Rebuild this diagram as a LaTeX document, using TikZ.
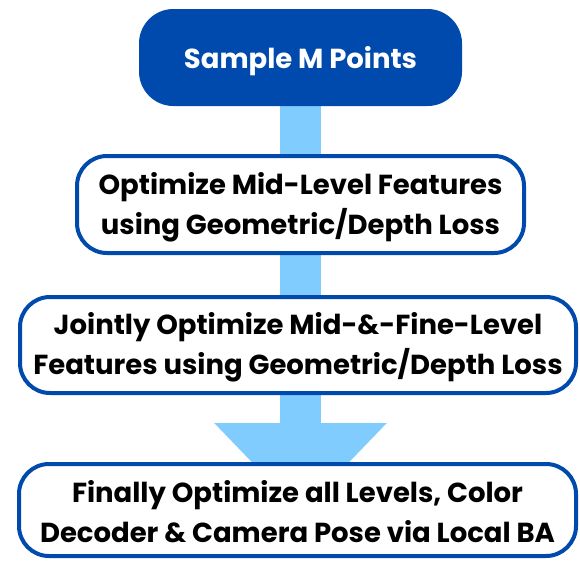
\documentclass[tikz,border=0pt]{standalone}
\usepackage{fontspec}
\setmainfont{Poppins}
\usetikzlibrary{arrows.meta}
\definecolor{dblue}{RGB}{0,74,173}
\definecolor{lblue}{RGB}{128,204,255}
\pgfdeclarelayer{bg}
\pgfsetlayers{bg,main}
\newcommand{\lowertext}[2]{\raisebox{-#1}[\height][\depth]{#2}}
\tikzset{
  txt/.style={font=\bfseries\fontsize{27.5}{40}\selectfont, align=center, inner sep=0pt},
  topbox/.style={txt, fill=dblue, draw=dblue, text=white, rounded corners=34pt, line width=1pt},
  stepbox/.style={txt, fill=white, draw=dblue, text=black, rounded corners=30pt, line width=4pt},
  bigarrow/.style={lblue, line width=41pt, -{Triangle[width=167pt,length=90pt]}}
}
\begin{document}
\begin{tikzpicture}[x=1pt,y=-1pt]
\useasboundingbox (0,0) rectangle (580,560);
\node[topbox, minimum width=322pt, minimum height=96pt] (n1) at (300.5,57.5) {\lowertext{4pt}{Sample M Points}};
\node[stepbox, minimum width=447pt, minimum height=97pt] (n2) at (300.5,204.5) {\lowertext{3pt}{\parbox{440pt}{\centering Optimize Mid-Level Features\\using Geometric/Depth Loss}}};
\node[stepbox, minimum width=556pt, minimum height=96pt] (n3) at (298,345) {\lowertext{2pt}{\parbox{550pt}{\centering Jointly Optimize Mid-\&-Fine-Level\\Features using Geometric/Depth Loss}}};
\node[stepbox, minimum width=557pt, minimum height=92pt] (n4) at (297.5,510) {\lowertext{2pt}{\parbox{550pt}{\centering Finally Optimize all Levels, Color\\Decoder \& Camera Pose via Local BA}}};
\coordinate (tip) at (300.5,513);
\begin{pgfonlayer}{bg}
\draw[bigarrow] (n1.center) -- (tip);
\end{pgfonlayer}
\end{tikzpicture}
\end{document}
